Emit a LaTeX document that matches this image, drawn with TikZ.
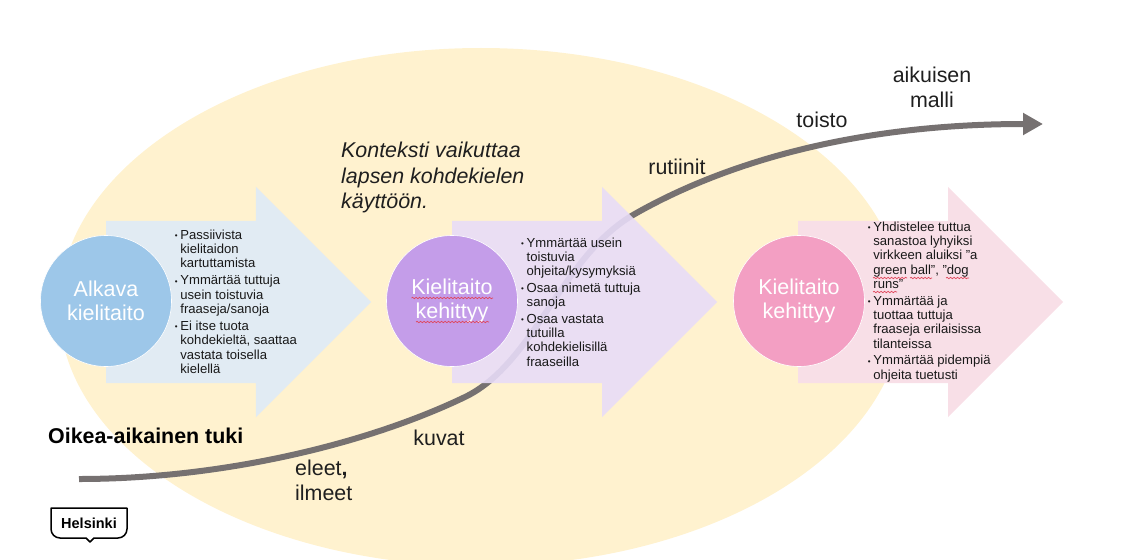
\documentclass[tikz,border=0pt]{standalone}
\usepackage{fontspec}
\setmainfont{Liberation Sans}
\usetikzlibrary{arrows.meta,shapes.arrows,decorations.pathmorphing}
\definecolor{bgyellow}{HTML}{FFF2CF}
\definecolor{curvegray}{HTML}{767171}
\definecolor{arrowblue}{HTML}{E1EBF3}
\definecolor{arrowlilac}{HTML}{E8DCF8}
\definecolor{arrowpink}{HTML}{F8DFE7}
\definecolor{circblue}{HTML}{9DC7E9}
\definecolor{circlilac}{HTML}{C49DE9}
\definecolor{circpink}{HTML}{F39FC3}
\definecolor{squigred}{HTML}{E0455A}
\newcommand{\bul}{\makebox[5.5pt][l]{\fontsize{8}{8}\selectfont\raisebox{0.6pt}{•}}}
\newcommand{\ind}{\hspace*{5.5pt}}
\tikzset{
  bigarrow/.style={single arrow, draw=none, anchor=tail, minimum height=265pt, inner ysep=81pt, inner xsep=0pt,
    single arrow head extend=34pt, single arrow tip angle=90},
  skill/.style={circle, draw=white, line width=0.6pt, minimum size=131pt, inner sep=0pt,
    align=center, text=white, font=\fontsize{21.5}{24.5}\selectfont},
  listtext/.style={anchor=north west, align=left, inner sep=0pt, text=black!90,
    font=\fontsize{13.1}{14.4}\selectfont},
  label/.style={align=center, inner sep=0pt, text=black!88, font=\fontsize{21.4}{25}\selectfont},
  squig/.style={draw=squigred, line width=0.7pt, decorate,
    decoration={snake, amplitude=0.7pt, segment length=3.5pt}}
}
\begin{document}
\begin{tikzpicture}[x=1pt,y=-1pt]
\useasboundingbox (0,0) rectangle (1147,559);
\begin{scope}
\clip (0,0) rectangle (1147,559);
\fill [bgyellow] (481,307) ellipse [x radius=422, y radius=259];
\end{scope}

\coordinate (start) at (79,479);
\coordinate (low) at (465,397);
\coordinate (high) at (633,215);
\coordinate (end) at (1043,124);
\draw [curvegray, line width=6pt, -{Triangle[length=20pt,width=21pt]}] (start)
  .. controls (220,479) and (365,445) .. (low)
  .. controls (535,363) and (560,258) .. (high)
  .. controls (720,165) and (850,124) .. (end);

\node [bigarrow, fill=arrowblue] (A1) at (106,302) {};
\node [bigarrow, fill=arrowlilac, fill opacity=0.9] (A2) at (452,302) {};
\node [bigarrow, fill=arrowpink] (A3) at (798,302) {};

\node [skill, fill=circblue] (C1) at (106,301) {Alkava\\kielitaito};
\node [skill, fill=circlilac] (C2) at (452,301) {Kielitaito\\kehittyy};
\node [skill, fill=circpink] (C3) at (799,301) {Kielitaito\\kehittyy};

\draw [squig] (411.5,298) -- (493,298);
\draw [squig] (416,322) -- (489,322);

\node [listtext] (L1) at (174.7,229.5) {\bul Passiivista\\\ind kielitaidon\\\ind kartuttamista\\[2.5pt]
  \bul Ymmärtää tuttuja\\\ind usein toistuvia\\\ind fraaseja/sanoja\\[2.5pt]
  \bul Ei itse tuota\\\ind kohdekieltä, saattaa\\\ind vastata toisella\\\ind kielellä};
\node [listtext] (L2) at (521,237.5) {\bul Ymmärtää usein\\\ind toistuvia\\\ind ohjeita/kysymyksiä\\[2pt]
  \bul Osaa nimetä tuttuja\\\ind sanoja\\[2pt]
  \bul Osaa vastata\\\ind tutuilla\\\ind kohdekielisillä\\\ind fraaseilla};
\node [listtext] (L3) at (867.7,221.5) {\bul Yhdistelee tuttua\\\ind sanastoa lyhyiksi\\\ind virkkeen aluiksi ”a\\\ind green ball”, ”dog\\\ind runs”\\[2pt]
  \bul Ymmärtää ja\\\ind tuottaa tuttuja\\\ind fraaseja erilaisissa\\\ind tilanteissa\\[2pt]
  \bul Ymmärtää pidempiä\\\ind ohjeita tuetusti};

\draw [squig] (873,278) -- (907,278);
\draw [squig] (910,278) -- (932,278);
\draw [squig] (946,278) -- (969,278);
\draw [squig] (873,292) -- (897,292);

\node [label, anchor=north west, align=left, font=\fontsize{21.4}{25.5}\selectfont\itshape] (ctx) at (341,142)
  {Konteksti vaikuttaa\\lapsen kohdekielen\\käyttöön.};
\node [label, anchor=west, font=\fontsize{21.4}{24}\selectfont\bfseries, text=black] (tuki) at (48,436) {Oikea-aikainen tuki};
\node [label, anchor=north west, align=left] (eleet) at (295,460) {eleet{\bfseries ,}\\ilmeet};
\node [label] (kuvat) at (439,438) {kuvat};
\node [label] (rutiinit) at (677,167) {rutiinit};
\node [label] (toisto) at (822,120) {toisto};
\node [label] (malli) at (932,87) {aikuisen\\malli};

\coordinate (lg) at (51,508);
\draw [line width=1.5pt, line join=round, fill=white] (lg) -- ++(76,0) -- ++(0,21)
  arc [start angle=0, end angle=90, radius=9] -- ++(-24,0) -- ++(-4,4) -- ++(-4,-4) -- ++(-26,0)
  arc [start angle=90, end angle=180, radius=9] -- cycle;
\node [inner sep=0pt, font=\fontsize{14.5}{15}\selectfont\bfseries] (logo) at (89,523) {Helsinki};
\end{tikzpicture}
\end{document}
